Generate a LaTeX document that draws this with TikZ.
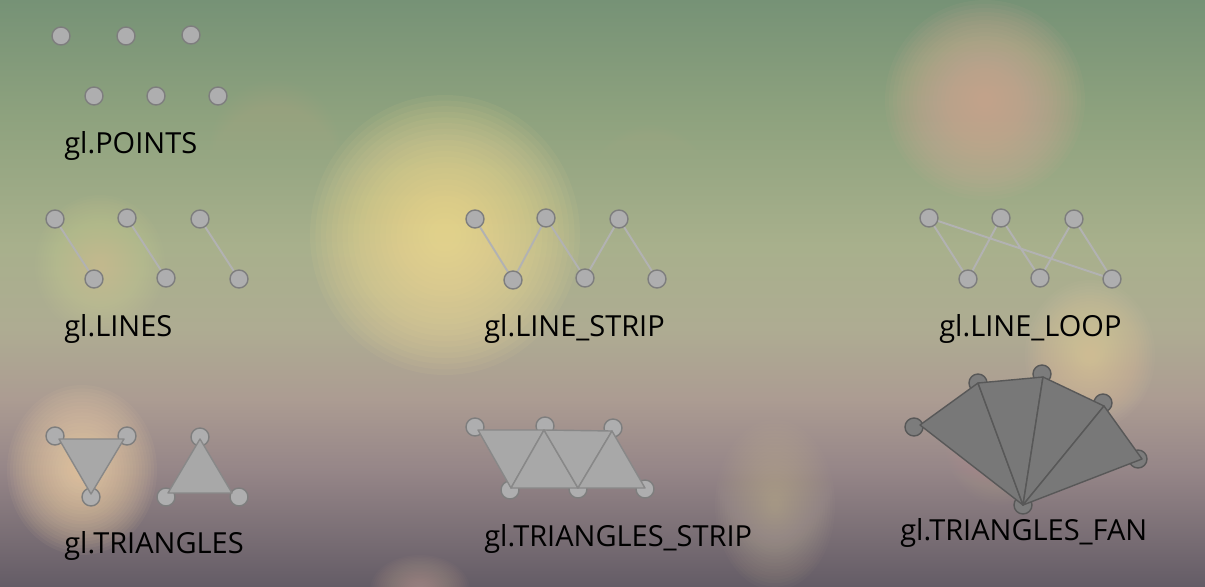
\documentclass[tikz,border=0pt]{standalone}
\usepackage{fontspec}
\setmainfont{Open Sans}
\usepackage{tikz}
\usepackage{xcolor}

\definecolor{vtxfill}{RGB}{174,174,175}
\definecolor{vtxline}{RGB}{126,126,126}
\definecolor{segcol}{RGB}{178,178,178}
\definecolor{trifill}{RGB}{168,168,168}
\definecolor{triline}{RGB}{136,136,136}
\definecolor{fanfill}{RGB}{120,120,120}
\definecolor{fanline}{RGB}{88,88,88}
\definecolor{fandotfill}{RGB}{124,124,124}
% bokeh colours
\definecolor{glowyellow}{RGB}{246,222,150}
\definecolor{glowpink}{RGB}{214,176,152}
\definecolor{glowpale}{RGB}{222,212,160}
\definecolor{glowpeach}{RGB}{250,218,172}
\definecolor{glowwarm}{RGB}{238,212,172}
\definecolor{glowbeige}{RGB}{200,186,160}
\definecolor{glowolive}{RGB}{192,188,142}
\definecolor{glowrose}{RGB}{200,170,160}

\pgfdeclareverticalshading{bgshade}{100bp}{%
  color(0bp)=(rgb,255:red,100;green,92;blue,102);
  color(25bp)=(rgb,255:red,100;green,92;blue,102);
  color(35bp)=(rgb,255:red,150;green,134;blue,136);
  color(41bp)=(rgb,255:red,172;green,156;blue,146);
  color(47bp)=(rgb,255:red,174;green,172;blue,146);
  color(54bp)=(rgb,255:red,168;green,176;blue,140);
  color(65bp)=(rgb,255:red,142;green,162;blue,126);
  color(75bp)=(rgb,255:red,118;green,146;blue,118);
  color(100bp)=(rgb,255:red,118;green,146;blue,118)}

% soft bokeh spot: x, y, x radius, y radius, colour, opacity per ring
\newcommand{\glowspot}[6]{%
  \foreach \k in {0,...,23}
    \fill[#5, fill opacity=#6*0.67] (#1,#2) ellipse ({#3*(1-\k/25)} and {#4*(1-\k/25)});
}

\begin{document}
\begin{tikzpicture}[x=0.02cm, y=-0.02cm,
    vtx/.style={circle, draw=vtxline, fill=vtxfill, line width=0.8pt, minimum size=0.36cm, inner sep=0pt},
    fanvtx/.style={vtx, fill=fandotfill, draw=fanline},
    seg/.style={draw=segcol, line width=1.1pt},
    tri/.style={fill=trifill, draw=triline, line width=0.8pt, line join=round},
    fantri/.style={fill=fanfill, draw=fanline, line width=0.8pt, line join=round},
    lbl/.style={anchor=base west, inner sep=0pt, font=\fontsize{16.5}{19}\selectfont}]
  % background
  \useasboundingbox (0,0) rectangle (1205,586);
  \shade[shading=bgshade] (0,0) rectangle (1205,586);
  \begin{scope}
    \clip (0,0) rectangle (1205,586);
    \glowspot{445}{235}{135}{140}{glowyellow}{0.1}
    \glowspot{985}{100}{100}{100}{glowpink}{0.1}
    \glowspot{100}{265}{65}{70}{glowpale}{0.05}
    \glowspot{82}{470}{75}{85}{glowpeach}{0.08}
    \glowspot{1090}{355}{65}{75}{glowwarm}{0.06}
    \glowspot{775}{505}{60}{85}{glowbeige}{0.05}
    \glowspot{275}{150}{65}{70}{glowolive}{0.035}
    \glowspot{650}{190}{60}{65}{glowolive}{0.035}
    \glowspot{1000}{440}{55}{65}{glowrose}{0.04}
    \glowspot{330}{400}{55}{60}{glowrose}{0.03}
    \glowspot{420}{590}{50}{35}{glowrose}{0.05}
  \end{scope}

  % gl.POINTS
  \foreach \i/\x/\y in {1/61/36, 2/126/36, 3/191/35, 4/94/96, 5/156/96, 6/218/96}
    \node[vtx] (p\i) at (\x,\y) {};
  \node[lbl] (lpoints) at (64,153) {gl.POINTS};

  % gl.LINES
  \foreach \i/\x/\y in {1/55/219, 2/94/279, 3/127/218, 4/166/278, 5/200/219, 6/239/279}
    \coordinate (l\i) at (\x,\y);
  \draw[seg] (l1) -- (l2) (l3) -- (l4) (l5) -- (l6);
  \foreach \i in {1,...,6}
    \node[vtx] (ln\i) at (l\i) {};
  \node[lbl] (llines) at (64,336) {gl.LINES};

  % gl.LINE_STRIP
  \foreach \i/\x/\y in {1/475/219, 2/513/280, 3/546/218, 4/585/278, 5/619/219, 6/657/279}
    \coordinate (s\i) at (\x,\y);
  \draw[seg] (s1) -- (s2) -- (s3) -- (s4) -- (s5) -- (s6);
  \foreach \i in {1,...,6}
    \node[vtx] (sn\i) at (s\i) {};
  \node[lbl] (lstrip) at (484,336) {gl.LINE\_STRIP};

  % gl.LINE_LOOP
  \foreach \i/\x/\y in {1/929/218, 2/968/279, 3/1001/218, 4/1040/278, 5/1074/219, 6/1112/279}
    \coordinate (o\i) at (\x,\y);
  \draw[seg] (o1) -- (o2) -- (o3) -- (o4) -- (o5) -- (o6) -- cycle;
  \foreach \i in {1,...,6}
    \node[vtx] (on\i) at (o\i) {};
  \node[lbl] (lloop) at (939,336) {gl.LINE\_LOOP};

  % gl.TRIANGLES
  \foreach \i/\x/\y in {1/55/436, 2/127/436, 3/91/497, 4/200/437, 5/166/497, 6/239/497}
    \node[vtx] (t\i) at (\x,\y) {};
  \draw[tri] (59,439) -- (124,439) -- (91,494) -- cycle;
  \draw[tri] (200,439) -- (232,493) -- (168,493) -- cycle;
  \node[lbl] (ltris) at (64,553) {gl.TRIANGLES};

  % gl.TRIANGLES_STRIP
  \foreach \i/\x/\y in {1/475/427, 2/510/490, 3/545/426, 4/578/489, 5/613/428, 6/645/489}
    \node[vtx] (ts\i) at (\x,\y) {};
  \coordinate (a1) at (478,430); \coordinate (a2) at (511,488);
  \coordinate (a3) at (544,430); \coordinate (a4) at (578,488);
  \coordinate (a5) at (612,431); \coordinate (a6) at (645,488);
  \draw[tri] (a1) -- (a3) -- (a2) -- cycle;
  \draw[tri] (a2) -- (a3) -- (a4) -- cycle;
  \draw[tri] (a3) -- (a5) -- (a4) -- cycle;
  \draw[tri] (a4) -- (a5) -- (a6) -- cycle;
  \node[lbl] (ltstrip) at (484,546) {gl.TRIANGLES\_STRIP};

  % gl.TRIANGLES_FAN
  \foreach \i/\x/\y in {0/1023/505, 1/914/427, 2/978/383, 3/1042/374, 4/1103/403, 5/1138/459}
    \node[fanvtx] (f\i) at (\x,\y) {};
  \coordinate (c0) at (1023,505); \coordinate (c1) at (920,425);
  \coordinate (c2) at (978,383); \coordinate (c3) at (1043,377);
  \coordinate (c4) at (1104,406); \coordinate (c5) at (1142,459);
  \foreach \i [evaluate=\i as \j using int(\i+1)] in {1,...,4}
    \draw[fantri] (c0) -- (c\i) -- (c\j) -- cycle;
  \node[lbl] (ltfan) at (900,540) {gl.TRIANGLES\_FAN};
\end{tikzpicture}
\end{document}
